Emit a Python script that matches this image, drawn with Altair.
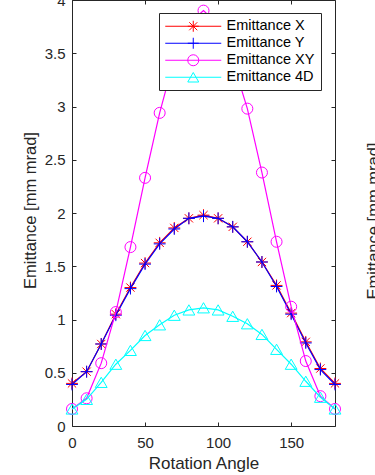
import altair as alt
import pandas as pd

# ---------------- data ----------------
angles = [0, 10, 20, 30, 40, 50, 60, 70, 80, 90, 100, 110, 120, 130, 140, 150, 160, 170, 180]
emit_x = [0.40, 0.51, 0.77, 1.05, 1.30, 1.53, 1.72, 1.86, 1.95, 1.98, 1.95, 1.87, 1.73, 1.54, 1.32, 1.06, 0.79, 0.54, 0.40]
emit_y = [0.39, 0.51, 0.77, 1.04, 1.29, 1.52, 1.71, 1.85, 1.95, 1.97, 1.95, 1.87, 1.73, 1.54, 1.31, 1.05, 0.78, 0.53, 0.39]
emit_xy = [0.16, 0.26, 0.59, 1.07, 1.68, 2.33, 2.94, 3.45, 3.78, 3.90, 3.77, 3.43, 2.98, 2.38, 1.73, 1.12, 0.61, 0.28, 0.16]
emit_4d = [0.16, 0.25, 0.41, 0.58, 0.71, 0.85, 0.95, 1.04, 1.09, 1.11, 1.09, 1.03, 0.96, 0.86, 0.72, 0.58, 0.42, 0.27, 0.16]

series_names = ["Emittance X", "Emittance Y", "Emittance XY", "Emittance 4D"]
series_colors = ["#ff0000", "#0000ff", "#ff00ff", "#00ffff"]
x_ticks = [0, 50, 100, 150]
y_ticks = [0, 0.5, 1, 1.5, 2, 2.5, 3, 3.5, 4]
x_title = "Rotation Angle"
y_title = "Emittance [mm mrad]"

# ---------------- styles ----------------
W, H = 263, 426
FONT = "Liberation Sans"
TXT = "#262626"

marker_shapes = [
    "M-1,0H1M0,-1V1M-0.7,-0.7L0.7,0.7M-0.7,0.7L0.7,-0.7",
    "M-1,0H1M0,-1V1",
    "circle",
    "triangle-up",
]
marker_sizes = [140, 140, 121, 140]

LINE = "M-1.4,0H9.8"
legend_shapes = [
    LINE + "M3.1,0H5.3M4.2,-1.1V1.1M3.4,-0.8L5.0,0.8M3.4,0.8L5.0,-0.8",
    LINE + "M3.1,0H5.3M4.2,-1.1V1.1",
    LINE + "M5.3,0A1.1,1.1 0 1,1 3.1,0A1.1,1.1 0 1,1 5.3,0",
    LINE + "M4.2,-0.95L3.1,0.95L5.3,0.95Z",
]

rows = []
for name, vals in zip(series_names, [emit_x, emit_y, emit_xy, emit_4d]):
    for a, v in zip(angles, vals):
        rows.append({"Series": name, "angle": a, "value": v})
df = pd.DataFrame(rows)

xscale = alt.Scale(domain=[0, 180], nice=False, zero=False)
yscale = alt.Scale(domain=[0, 4], nice=False, zero=False)

x_main = alt.Axis(
    orient="bottom", values=x_ticks, title=x_title, domain=False, ticks=False, tickSize=0,
    grid=False, labelPadding=21, labelBaseline="alphabetic", labelFlush=False,
    labelOverlap=False, labelFont=FONT, labelFontSize=15, labelColor=TXT,
    titleFont=FONT, titleFontSize=17, titleFontWeight="normal", titleColor=TXT,
    titleY=42, titleBaseline="alphabetic",
)
y_main = alt.Axis(
    orient="left", values=y_ticks, format="~g", title=y_title, domain=False, ticks=False,
    tickSize=0, grid=False, labelPadding=7, labelFlush=False, labelOverlap=False,
    labelFont=FONT, labelFontSize=15, labelColor=TXT,
    titleFont=FONT, titleFontSize=16.5, titleFontWeight="normal", titleColor=TXT,
    titleX=-37, titleY=210, titleAngle=270, titleAlign="center", titleBaseline="alphabetic",
)


def tick_axis(orient, offset, values):
    return alt.Axis(orient=orient, offset=offset, values=values, labels=False, domain=False,
                    ticks=True, tickSize=4, tickWidth=1, tickColor=TXT, title=None, grid=False)


x_axes = [x_main, tick_axis("top", -H, x_ticks), tick_axis("bottom", -H, x_ticks)]
y_axes = [y_main, tick_axis("right", -W, y_ticks), tick_axis("left", -W, y_ticks)]

layers = []
k = 0
for i, name in enumerate(series_names):
    base = alt.Chart(df).transform_filter(alt.datum.Series == name)
    for kind in ("line", "point"):
        xa = x_axes[k] if k < len(x_axes) else None
        ya = y_axes[k] if k < len(y_axes) else None
        k += 1
        if kind == "line":
            m = base.mark_line(color=series_colors[i], strokeWidth=1.2)
        else:
            m = base.mark_point(shape=marker_shapes[i], size=marker_sizes[i], filled=False,
                                color=series_colors[i], strokeWidth=1, opacity=1)
        layers.append(m.encode(
            x=alt.X("angle:Q", scale=xscale, axis=xa),
            y=alt.Y("value:Q", scale=yscale, axis=ya),
        ))

leg = alt.Legend(
    title=None, orient="none", legendX=87, legendY=13, padding=6,
    fillColor="white", strokeColor=TXT, cornerRadius=0,
    symbolSize=100, symbolStrokeWidth=1, symbolOffset=0, labelOffset=47,
    labelFont=FONT, labelFontSize=14.5, labelColor="black", rowPadding=1,
)
legend_layer = alt.Chart(df).transform_filter("false").mark_point(
    filled=False, opacity=1, strokeWidth=1, clip=True
).encode(
    x=alt.X("angle:Q", scale=xscale, axis=None),
    y=alt.Y("value:Q", scale=yscale, axis=None),
    color=alt.Color("Series:N", scale=alt.Scale(domain=series_names, range=series_colors), legend=leg),
    shape=alt.Shape("Series:N", scale=alt.Scale(domain=series_names, range=legend_shapes), legend=leg),
)
layers.append(legend_layer)

# partially visible y title of the neighbouring subplot
side_text = alt.Chart(pd.DataFrame({"t": [y_title]})).mark_text(
    angle=270, font=FONT, fontSize=16.5, color=TXT, align="center", baseline="alphabetic"
).encode(x=alt.value(307), y=alt.value(221), text="t:N")
layers.append(side_text)

chart = alt.layer(*layers).resolve_axis(x="independent", y="independent").properties(
    width=W, height=H,
    autosize=alt.AutoSizeParams(type="none"),
    padding={"left": 72, "top": 0, "right": 40, "bottom": 49},
    background="white",
).configure_view(stroke=TXT, strokeWidth=1)

chart.save("out.html", embed_options={"renderer": "svg", "actions": False})
